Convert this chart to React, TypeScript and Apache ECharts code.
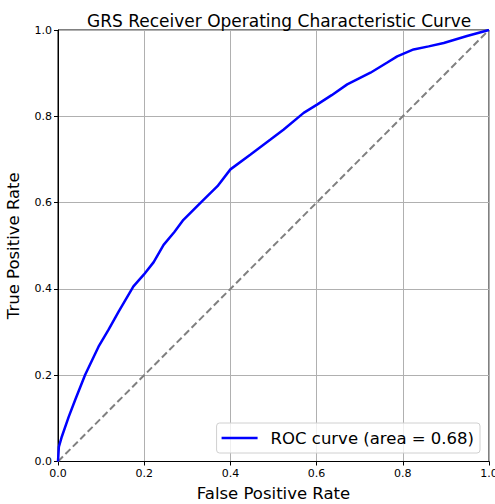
import React, { useEffect, useRef } from "react";
import * as echarts from "echarts";

const fpr = [0, 0.002, 0.009, 0.025, 0.04, 0.063, 0.094, 0.117, 0.141, 0.175, 0.199, 0.222, 0.245, 0.27, 0.291, 0.334, 0.37, 0.4, 0.446, 0.493, 0.523, 0.57, 0.601, 0.635, 0.671, 0.725, 0.763, 0.787, 0.825, 0.86, 0.895, 0.949, 1];
const tpr = [0, 0.034, 0.058, 0.104, 0.143, 0.201, 0.266, 0.305, 0.348, 0.406, 0.433, 0.462, 0.502, 0.532, 0.56, 0.603, 0.638, 0.677, 0.711, 0.746, 0.769, 0.808, 0.827, 0.849, 0.874, 0.901, 0.924, 0.939, 0.955, 0.962, 0.97, 0.986, 1];
const diagX = [0, 1];
const diagY = [0, 1];
const seriesName = "ROC curve (area = 0.68)";

export default function App() {
  const ref = useRef<HTMLDivElement>(null);
  useEffect(() => {
    if (!ref.current) return;
    const chart = echarts.init(ref.current, null, { renderer: "svg" });
    const font = "DejaVu Sans";
    chart.setOption({
      animation: false,
      textStyle: { fontFamily: font },
      title: {
        text: "GRS Receiver Operating Characteristic Curve",
        left: 82,
        top: 7,
        textStyle: { fontFamily: font, fontSize: 17, fontWeight: "normal", color: "#000" },
      },
      grid: {
        left: 58, top: 30, right: 6, bottom: 42.5,
        outerBoundsMode: "none",
        containLabel: false,
        show: true, borderColor: "#000", borderWidth: 1, backgroundColor: "transparent",
      },
      legend: {
        data: [{ name: seriesName, icon: "rect" }],
        right: 15, top: 423,
        padding: [5, 6, 5, 5],
        itemWidth: 36, itemHeight: 2.5,
        borderColor: "#d0d0d0", borderWidth: 1, borderRadius: 3,
        backgroundColor: "rgba(255,255,255,0.8)",
        textStyle: { fontFamily: font, fontSize: 16.5, color: "#000", padding: [0, 0, 0, 8], lineHeight: 20 },
      },
      xAxis: {
        type: "value", min: 0, max: 1, interval: 0.2,
        name: "False Positive Rate", nameLocation: "middle", nameGap: 23,
        nameTextStyle: { fontFamily: font, fontSize: 16.5, color: "#000" },
        axisLine: { show: true, lineStyle: { color: "#000" } },
        axisTick: { show: true, length: 4, lineStyle: { color: "#000" } },
        axisLabel: { fontFamily: font, fontSize: 11, color: "#000", margin: 6, formatter: (v: number) => v.toFixed(1) },
        splitLine: { show: true, lineStyle: { color: "#b0b0b0", width: 1 } },
      },
      yAxis: {
        type: "value", min: 0, max: 1, interval: 0.2,
        name: "True Positive Rate", nameLocation: "middle", nameGap: 36,
        nameTextStyle: { fontFamily: font, fontSize: 16.5, color: "#000" },
        axisLine: { show: true, lineStyle: { color: "#000" } },
        axisTick: { show: true, length: 4, lineStyle: { color: "#000" } },
        axisLabel: { fontFamily: font, fontSize: 11, color: "#000", margin: 6, formatter: (v: number) => v.toFixed(1) },
        splitLine: { show: true, lineStyle: { color: "#b0b0b0", width: 1 } },
      },
      series: [
        {
          type: "line",
          data: diagX.map((x, i) => [x, diagY[i]]),
          symbol: "none",
          lineStyle: { color: "#808080", width: 2, type: [7, 3.5] },
          z: 2,
        },
        {
          name: seriesName,
          type: "line",
          data: fpr.map((x, i) => [x, tpr[i]]),
          symbol: "none",
          lineStyle: { color: "#0000ff", width: 2.5 },
          itemStyle: { color: "#0000ff" },
          z: 3,
        },
      ],
    });
    return () => chart.dispose();
  }, []);
  return <div ref={ref} style={{ position: "absolute", left: 0, top: 0, width: 495, height: 504 }} />;
}
